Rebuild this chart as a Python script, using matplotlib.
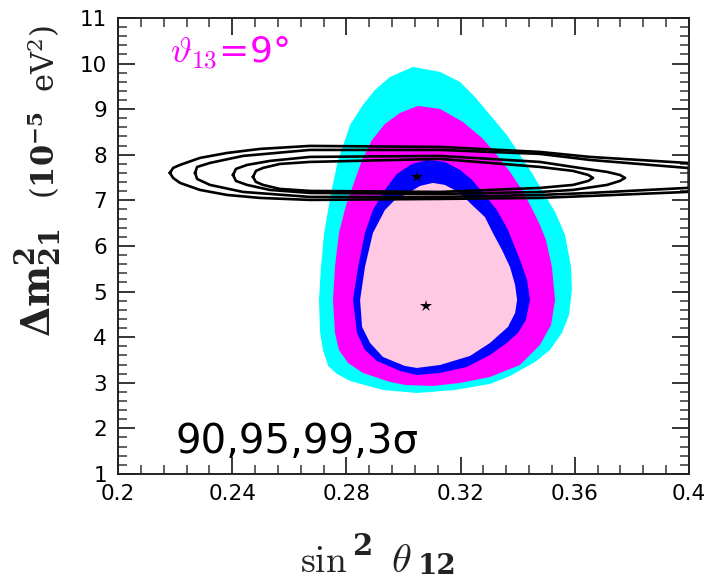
import numpy as np
import matplotlib
matplotlib.use('Agg')
import matplotlib.pyplot as plt
import matplotlib.ticker as tkr

# filled allowed regions (sin^2 theta12, dm2_21 in 1e-5 eV^2), outer to inner
cyanX = [0.3033, 0.3128, 0.3198, 0.3250, 0.3303, 0.3362, 0.3408, 0.3454, 0.3489, 0.3531,
         0.3566, 0.3587, 0.3590, 0.3580, 0.3555, 0.3513, 0.3461, 0.3373, 0.3303, 0.3180,
         0.3047, 0.2928, 0.2813, 0.2767, 0.2736, 0.2718, 0.2708, 0.2704, 0.2711, 0.2722,
         0.2739, 0.2750, 0.2771, 0.2813, 0.2858, 0.2900, 0.2953]
cyanY = [9.925, 9.816, 9.596, 9.268, 8.873, 8.434, 7.996, 7.557, 7.184, 6.746,
         6.241, 5.539, 5.035, 4.487, 4.092, 3.719, 3.456, 3.149, 2.974, 2.842,
         2.776, 2.842, 3.039, 3.193, 3.368, 3.719, 4.092, 4.816, 5.539, 6.285,
         6.899, 7.272, 7.886, 8.654, 9.092, 9.421, 9.706]

magX = [0.3051, 0.3128, 0.3208, 0.3275, 0.3327, 0.3373, 0.3415, 0.3447, 0.3478, 0.3499,
        0.3520, 0.3531, 0.3517, 0.3478, 0.3408, 0.3303, 0.3198, 0.3103, 0.3005, 0.2953,
        0.2858, 0.2806, 0.2774, 0.2760, 0.2753, 0.2760, 0.2774, 0.2799, 0.2820, 0.2855,
        0.2890, 0.2935, 0.2988]
magY = [9.070, 9.004, 8.719, 8.368, 7.996, 7.623, 7.228, 6.855, 6.461, 6.132,
        5.539, 4.816, 4.268, 3.829, 3.390, 3.127, 2.996, 2.930, 2.952, 3.018,
        3.215, 3.434, 3.719, 4.092, 4.816, 5.539, 6.285, 6.899, 7.272, 7.886,
        8.325, 8.675, 8.917]

blueX = [0.3086, 0.3145, 0.3198, 0.3240, 0.3285, 0.3327, 0.3366, 0.3408, 0.3433, 0.3443,
         0.3429, 0.3401, 0.3362, 0.3303, 0.3222, 0.3128, 0.3047, 0.2988, 0.2907, 0.2865,
         0.2837, 0.2823, 0.2841, 0.2865, 0.2893, 0.2935, 0.2977, 0.3030]
blueY = [7.886, 7.842, 7.667, 7.447, 7.118, 6.789, 6.351, 5.693, 5.254, 4.816,
         4.377, 4.092, 3.873, 3.610, 3.346, 3.215, 3.171, 3.259, 3.478, 3.719,
         4.092, 4.816, 5.539, 6.285, 6.789, 7.228, 7.579, 7.798]

pinkX = [0.3103, 0.3145, 0.3198, 0.3240, 0.3285, 0.3313, 0.3345, 0.3373, 0.3391, 0.3398,
         0.3391, 0.3366, 0.3303, 0.3233, 0.3128, 0.3047, 0.3005, 0.2928, 0.2883, 0.2855,
         0.2848, 0.2865, 0.2893, 0.2935, 0.2970, 0.3023, 0.3058]
pinkY = [7.382, 7.338, 7.162, 6.899, 6.636, 6.285, 5.912, 5.539, 5.145, 4.816,
         4.531, 4.224, 3.873, 3.588, 3.390, 3.325, 3.368, 3.566, 3.873, 4.224,
         4.816, 5.539, 6.285, 6.789, 7.009, 7.184, 7.316]

# black contour lines (90, 95, 99%, 3 sigma), inner to outer
c1X = [0.2473, 0.2483, 0.2508, 0.2567, 0.2672, 0.3128, 0.3478, 0.3594, 0.3647, 0.3664,
       0.3647, 0.3594, 0.3478, 0.3128, 0.2672, 0.2567, 0.2508, 0.2483]
c1Y = [7.513, 7.645, 7.711, 7.798, 7.842, 7.908, 7.732, 7.645, 7.557, 7.491,
       7.425, 7.338, 7.272, 7.184, 7.206, 7.250, 7.338, 7.404]

c2X = [0.2403, 0.2413, 0.2452, 0.2532, 0.2672, 0.3128, 0.3478, 0.3594, 0.3713, 0.3758, 0.3776,
       0.3758, 0.3713, 0.3594, 0.3478, 0.3128, 0.2672, 0.2532, 0.2452, 0.2413]
c2Y = [7.557, 7.689, 7.776, 7.864, 7.952, 7.974, 7.842, 7.732, 7.623, 7.557, 7.491,
       7.425, 7.338, 7.228, 7.184, 7.140, 7.162, 7.228, 7.338, 7.425]

c3X = [0.2270, 0.2277, 0.2322, 0.2438, 0.2672, 0.3128, 0.3478, 0.3653, 0.3993, 0.4000,
       0.4000, 0.3993, 0.3653, 0.3478, 0.3128, 0.2672, 0.2438, 0.2322, 0.2277]
c3Y = [7.601, 7.732, 7.820, 7.974, 8.105, 8.105, 8.018, 7.886, 7.711, 7.711,
       7.272, 7.272, 7.162, 7.118, 7.075, 7.075, 7.184, 7.338, 7.469]

c4X = [0.2182, 0.2193, 0.2217, 0.2287, 0.2382, 0.2497, 0.2672, 0.3128, 0.3478, 0.3653, 0.3993, 0.4000,
       0.4000, 0.3993, 0.3653, 0.3478, 0.3128, 0.2672, 0.2497, 0.2382, 0.2287, 0.2217, 0.2193]
c4Y = [7.601, 7.711, 7.776, 7.930, 8.039, 8.127, 8.193, 8.171, 8.061, 7.952, 7.820, 7.815,
       7.190, 7.184, 7.096, 7.053, 7.031, 7.009, 7.053, 7.118, 7.228, 7.382, 7.491]

bestX = [0.3079, 0.3047]
bestY = [4.68, 7.51]

xTicks = [0.2, 0.24, 0.28, 0.32, 0.36, 0.4]
xTickLabels = ['0.2', '0.24', '0.28', '0.32', '0.36', '0.4']
yTicks = list(range(1, 12))

fig = plt.figure(figsize=(7.11, 5.81), dpi=100)
ax = fig.add_axes([0.166, 0.1842, 0.803, 0.785])

ax.fill(cyanX, cyanY, color='#00ffff', lw=0)
ax.fill(magX, magY, color='#ff00ff', lw=0)
ax.fill(blueX, blueY, color='#0000ff', lw=0)
ax.fill(pinkX, pinkY, color='#ffc9e3', lw=0)

for cx, cy in [(c1X, c1Y), (c2X, c2Y), (c3X, c3Y), (c4X, c4Y)]:
	ax.plot(cx + cx[:1], cy + cy[:1], color='black', lw=1.9, solid_joinstyle='round')

ax.plot(bestX, bestY, '*', color='black', ms=9, mew=0)

ax.set_xlim(0.2, 0.4)
ax.set_ylim(1, 11)
ax.set_xticks(xTicks)
ax.set_xticklabels(xTickLabels)
ax.set_yticks(yTicks)
ax.xaxis.set_minor_locator(tkr.MultipleLocator(0.008))
ax.yaxis.set_minor_locator(tkr.MultipleLocator(0.2))
ax.tick_params(which='both', direction='in', top=True, right=True, color='#333333', width=1.1)
ax.tick_params(which='major', length=12, labelsize=15.5, colors='black')
ax.tick_params(which='minor', length=6.5)
ax.tick_params(axis='x', which='major', pad=7)
ax.tick_params(axis='y', which='major', pad=8)
for s in ax.spines.values():
	s.set_linewidth(1.4)
	s.set_color('#222222')

ax.text(0.2182, 10.0, r'$\vartheta_{13}$=9°', color='#ff00ff', fontsize=26, math_fontfamily='cm')
ax.text(0.2203, 1.46, '90,95,99,3σ', color='black', fontsize=29)

# x label built from pieces so the bold scripts come out large like the original
lab = '#222222'
fig.text(300 / 711, 1 - 572 / 581, r'$\mathrm{sin}$', ha='left', va='baseline', fontsize=27, color=lab, math_fontfamily='cm')
fig.text(352 / 711, 1 - 555 / 581, '2', ha='left', va='baseline', fontsize=21, color=lab,
	fontfamily='DejaVu Serif', fontweight='bold')
fig.text(391 / 711, 1 - 572 / 581, r'$\theta$', ha='left', va='baseline', fontsize=29, color=lab, math_fontfamily='cm')
fig.text(418 / 711, 1 - 574 / 581, '12', ha='left', va='baseline', fontsize=20, color=lab,
	fontfamily='DejaVu Serif', fontweight='bold')

fig.text(38 / 711, 1 - 283 / 581, r'$\mathbf{\Delta m^2_{21}}$', rotation=90, ha='center', va='center',
	fontsize=28, color=lab, math_fontfamily='dejavuserif')
fig.text(44 / 711, 1 - 112 / 581, r'$(\mathbf{10^{-5}}\ \ \mathrm{eV^2})$', rotation=90, ha='center', va='center',
	fontsize=22, color=lab, math_fontfamily='dejavuserif')

plt.savefig('out.png', dpi=100)
